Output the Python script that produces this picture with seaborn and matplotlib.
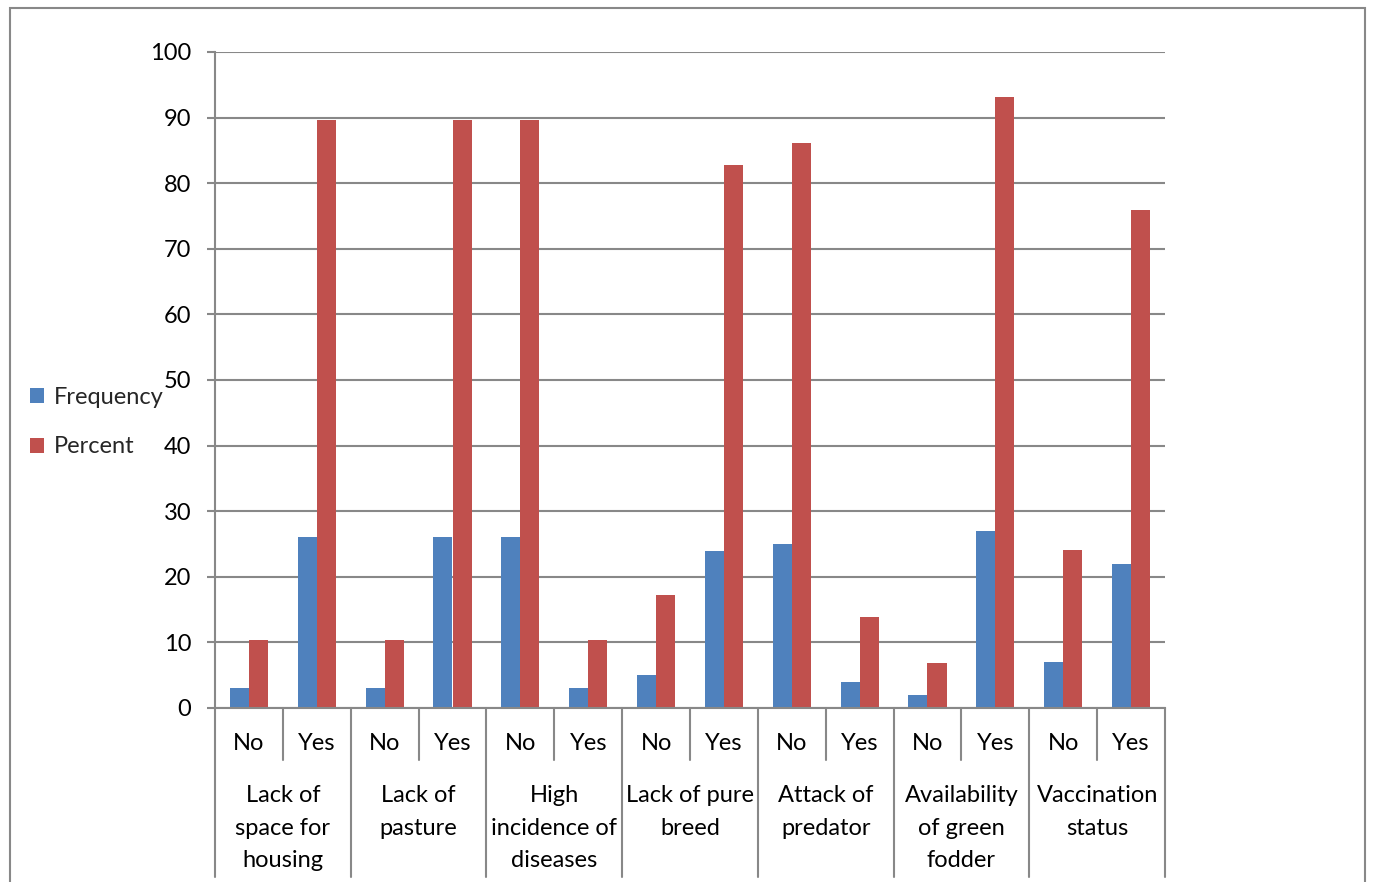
import matplotlib
matplotlib.use("Agg")
import matplotlib.pyplot as plt
import matplotlib.transforms as mtransforms
from matplotlib.patches import Rectangle
import seaborn as sns
import pandas as pd
import numpy as np

groups = ["Lack of\nspace for\nhousing", "Lack of\npasture", "High\nincidence of\ndiseases",
          "Lack of pure\nbreed", "Attack of\npredator", "Availability\nof green\nfodder",
          "Vaccination\nstatus"]
answers = ["No", "Yes"]
frequency = [3, 26, 3, 26, 26, 3, 5, 24, 25, 4, 2, 27, 7, 22]
percent = [10.3, 89.7, 10.3, 89.7, 89.7, 10.3, 17.2, 82.8, 86.2, 13.8, 6.9, 93.1, 24.1, 75.9]
series = ["Frequency", "Percent"]
colors = ["#4F81BD", "#C0504D"]
yticks = list(range(0, 101, 10))

sns.set_theme(style="white")
plt.rcParams['font.family'] = ['Lato', 'DejaVu Sans']

keys = [f"{g}|{a}" for g in groups for a in answers]
df = pd.DataFrame({
    "key": keys * 2,
    "value": frequency + percent,
    "series": [series[0]] * len(keys) + [series[1]] * len(keys),
})

W, H = 1373, 882
FS = 17
fig = plt.figure(figsize=(W / 100, H / 100), dpi=100)
ax = fig.add_axes([215 / W, 1 - 708 / H, 950 / W, 656 / H])

sns.barplot(data=df, x="key", y="value", hue="series", order=keys, hue_order=series,
            palette=colors, width=0.56, dodge=True, linewidth=0, saturation=1, ax=ax,
            legend=True)

grey = "#888888"
ax.set_ylim(0, 100)
ax.set_xlim(-0.5, len(keys) - 0.5)
ax.set_yticks(yticks)
ax.set_yticklabels([str(t) for t in yticks], fontsize=FS, color="black")
ax.yaxis.grid(True, color=grey, linewidth=1.5)
ax.set_axisbelow(True)
ax.tick_params(axis="y", length=6, width=1.5, color=grey, pad=11, left=True)
ax.set_xticks([])
ax.set_xlabel("")
ax.set_ylabel("")
for s in ["top", "right"]:
    ax.spines[s].set_visible(False)
for s in ["left", "bottom"]:
    ax.spines[s].set_color(grey)
    ax.spines[s].set_linewidth(1.5)

trans = mtransforms.blended_transform_factory(ax.transData, ax.transAxes)
px = 1 / 656.0
# category labels
for i, k in enumerate(keys):
    ax.text(i, -36 * px, k.split("|")[1], transform=trans, ha="center", va="center",
            fontsize=FS, color="black")
# group labels
for gi, g in enumerate(groups):
    ax.text(2 * gi + 0.5, -77 * px, g, transform=trans, ha="center", va="top",
            fontsize=FS, color="black", linespacing=1.68)
# divider lines
for b in range(len(keys) + 1):
    x = b - 0.5
    y_end = -169 * px if b % 2 == 0 else -52 * px
    ax.plot([x, x], [0, y_end], transform=trans, color=grey, lw=1.5, clip_on=False)

# legend
leg = ax.legend(loc="upper left", bbox_to_anchor=(30 / W, 1 - 387 / H),
                bbox_transform=fig.transFigure, frameon=False, fontsize=FS,
                handlelength=0.6, handleheight=0.6, handletextpad=0.4,
                labelspacing=1.2, borderpad=0, borderaxespad=0)

# outer frame
fig.patches.append(Rectangle((10 / W, -0.02), 1355 / W, 1.02 - 8 / H, transform=fig.transFigure,
                             fill=False, edgecolor=grey, linewidth=1.5))

fig.savefig("out.png", dpi=100)
